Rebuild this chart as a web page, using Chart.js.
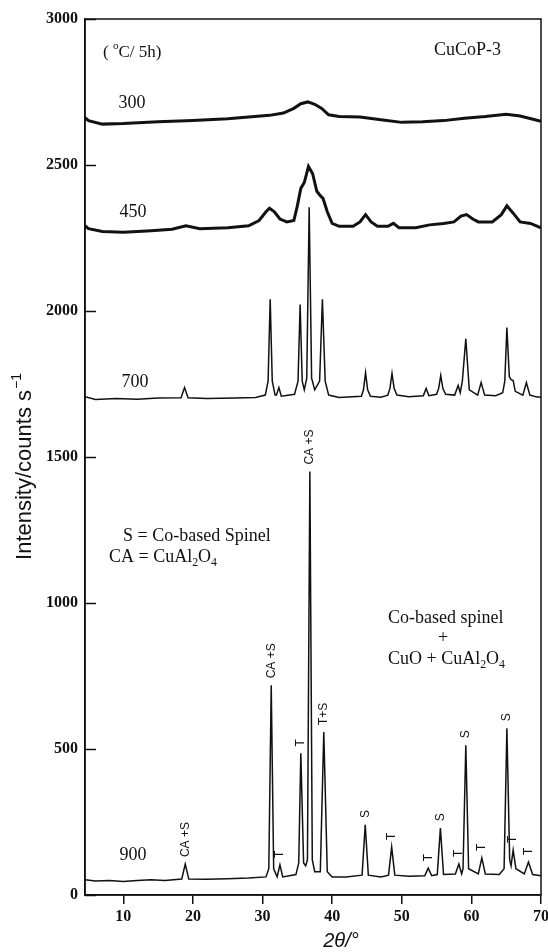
<!DOCTYPE html>
<html>
<head>
<meta charset="utf-8">
<script src="https://cdn.jsdelivr.net/npm/chart.js@4.4.1/dist/chart.umd.min.js"></script>
<style>
html,body{margin:0;padding:0;background:#fff;}
#wrap{width:548px;height:952px;}
</style>
</head>
<body>
<div id="wrap"><canvas id="c" width="548" height="952"></canvas></div>
<script>
// ---- data ----
const xTickValues = [10, 20, 30, 40, 50, 60, 70];
const yTickValues = [0, 500, 1000, 1500, 2000, 2500, 3000];
const xTitle = '2θ/°';
const yTitle = 'Intensity/counts s';
const yTitleSup = '−1';

const tt300 = [4.5, 5, 7, 10, 15, 20, 25, 28, 31, 33, 34.5, 35.5, 36.5, 37.5, 38.5, 39.5, 41, 44, 47, 50, 53, 56, 59, 62, 65, 67, 69, 70];
const int300 = [2662, 2652, 2640, 2642, 2648, 2652, 2658, 2664, 2670, 2678, 2694, 2710, 2716, 2708, 2694, 2672, 2666, 2664, 2655, 2646, 2648, 2652, 2660, 2666, 2674, 2668, 2656, 2650];

const tt450 = [4.5, 5, 7, 10, 14, 17, 19, 21, 25, 28, 29.5, 30.5, 31, 31.7, 32.5, 33.5, 34.5, 35, 35.5, 36, 36.6, 37.2, 37.8, 38.3, 38.7, 39.3, 40, 41, 43, 44, 44.8, 45.6, 46.5, 48, 48.8, 49.6, 52, 54, 56, 57.5, 58.5, 59.3, 60.2, 61, 63, 64.3, 65.1, 66, 67, 68.5, 69.5, 70];
const int450 = [2292, 2282, 2272, 2270, 2275, 2280, 2292, 2282, 2285, 2292, 2310, 2340, 2352, 2340, 2315, 2305, 2310, 2360, 2420, 2440, 2495, 2470, 2410, 2395, 2385, 2340, 2300, 2290, 2290, 2305, 2330, 2305, 2290, 2290, 2300, 2285, 2285, 2295, 2300, 2305, 2325, 2330, 2315, 2305, 2305, 2330, 2360, 2335, 2305, 2300, 2290, 2285];

const tt700 = [4.5, 6, 9, 12, 15, 18.3, 18.8, 19.3, 22, 26, 29, 30.4, 30.8, 31.1, 31.4, 31.8, 32.0, 32.35, 32.7, 34.6, 35.1, 35.4, 35.7, 36.0, 36.35, 36.7, 37.05, 37.5, 38.2, 38.6, 39.0, 39.5, 41, 44.2, 44.5, 44.8, 45.1, 45.5, 47, 48.0, 48.3, 48.6, 48.9, 49.3, 51, 53.1, 53.5, 53.9, 55.0, 55.3, 55.6, 55.9, 56.3, 57.6, 58.1, 58.4, 58.7, 59.2, 59.7, 60.9, 61.4, 61.9, 63.5, 64.5, 64.8, 65.1, 65.45, 65.7, 66.0, 66.3, 67.4, 67.9, 68.4, 69.3, 70];
const int700 = [1706, 1697, 1700, 1698, 1702, 1703, 1738, 1703, 1700, 1702, 1704, 1712, 1760, 2040, 1760, 1712, 1712, 1738, 1708, 1715, 1760, 2022, 1760, 1730, 1770, 2355, 1770, 1730, 1760, 2040, 1760, 1712, 1704, 1708, 1730, 1789, 1730, 1708, 1705, 1712, 1735, 1786, 1735, 1712, 1706, 1710, 1735, 1710, 1715, 1735, 1779, 1735, 1715, 1712, 1745, 1720, 1760, 1905, 1730, 1712, 1755, 1712, 1710, 1720, 1760, 1943, 1775, 1765, 1762, 1725, 1712, 1755, 1712, 1706, 1705];

const tt900 = [4.5, 6, 8, 10, 12, 14, 16, 18.4, 18.9, 19.4, 22, 25, 28, 30.5, 30.9, 31.25, 31.6, 32.1, 32.5, 32.9, 34.8, 35.2, 35.5, 35.9, 36.2, 36.45, 36.8, 37.15, 37.5, 38.3, 38.8, 39.3, 40, 42, 44.3, 44.75, 45.2, 47, 48.1, 48.55, 49.0, 51, 53.3, 53.8, 54.3, 55.1, 55.55, 56, 57.7, 58.2, 58.6, 58.8, 59.2, 59.6, 61.0, 61.5, 62.0, 64, 64.7, 65.1, 65.5, 65.7, 66.0, 66.4, 67.6, 68.2, 68.8, 70];
const int900 = [52, 48, 50, 46, 50, 52, 50, 55, 106, 55, 54, 56, 58, 62, 90, 718, 90, 62, 103, 62, 70, 110, 485, 110, 100, 120, 1450, 120, 80, 80, 558, 80, 62, 62, 68, 240, 68, 62, 68, 164, 68, 64, 66, 92, 66, 70, 229, 70, 72, 106, 72, 90, 513, 90, 72, 127, 72, 70, 90, 571, 120, 100, 154, 90, 72, 113, 70, 66];

const peakPos900 = [18.9, 31.25, 32.5, 35.5, 36.8, 38.8, 44.75, 48.55, 53.8, 55.55, 58.2, 59.2, 61.5, 65.1, 66.0, 68.2];
const peakText900 = ['CA +S', 'CA +S', 'T', 'T', 'CA +S', 'T+S', 'S', 'T', 'T', 'S', 'T', 'S', 'T', 'S', 'T', 'T'];

const seriesNames = ['300', '450', '700', '900'];

// ---- build ----
function pts(xs, ys){ return xs.map((x,i)=>({x:x, y:ys[i]})); }

const SERIF = '"Liberation Serif", "Times New Roman", serif';
const SANS = '"Liberation Sans", Arial, sans-serif';

function drawRich(ctx, segs, x, y, size, align){
  ctx.save();
  ctx.textBaseline = 'alphabetic';
  ctx.textAlign = 'left';
  let total = 0;
  const widths = segs.map(s=>{
    const fs = s[1] ? size*0.66 : size;
    ctx.font = fs + 'px ' + SERIF;
    const w = ctx.measureText(s[0]).width;
    total += w; return w;
  });
  let cx = align === 'center' ? x - total/2 : x;
  const base = y + size*0.33;
  segs.forEach((s,i)=>{
    const fs = s[1] ? size*0.66 : size;
    ctx.font = fs + 'px ' + SERIF;
    let dy = 0;
    if (s[1] === 1) dy = size*0.22;
    if (s[1] === 2) dy = -size*0.42;
    ctx.fillText(s[0], cx, base + dy);
    cx += widths[i];
  });
  ctx.restore();
}

const annoPlugin = {
  id: 'anno',
  afterDraw(chart){
    const ctx = chart.ctx, xs = chart.scales.x, ys = chart.scales.y, a = chart.chartArea;
    ctx.save();
    ctx.strokeStyle = '#111';
    ctx.lineWidth = 1.5;
    ctx.strokeRect(a.left, a.top, a.right - a.left, a.bottom - a.top);
    yTickValues.forEach(v=>{
      const py = Math.round(ys.getPixelForValue(v)) + 0.5;
      ctx.beginPath(); ctx.moveTo(a.left, py); ctx.lineTo(a.left + 11, py); ctx.stroke();
    });
    ctx.fillStyle = '#111';
    // axis titles
    ctx.save();
    ctx.font = 'italic 20px ' + SANS; ctx.textAlign = 'center'; ctx.textBaseline = 'middle';
    ctx.fillText(xTitle, 341, 941);
    ctx.restore();
    ctx.save();
    ctx.translate(25, 467);
    ctx.rotate(-Math.PI/2);
    ctx.font = '22px ' + SANS; ctx.textBaseline = 'middle'; ctx.textAlign = 'left';
    const w1 = ctx.measureText(yTitle).width;
    ctx.font = '14px ' + SANS;
    const w2 = ctx.measureText(yTitleSup).width;
    const start = -(w1 + w2)/2;
    ctx.font = '22px ' + SANS;
    ctx.fillText(yTitle, start, 0);
    ctx.font = '14px ' + SANS;
    ctx.fillText(yTitleSup, start + w1 + 1, -8);
    ctx.restore();
    // series names
    const nameY = [103, 212, 382, 855];
    const nameX = [132, 133, 135, 133];
    ctx.font = '18px ' + SERIF; ctx.textAlign = 'center'; ctx.textBaseline = 'middle';
    seriesNames.forEach((n,i)=> ctx.fillText(n, nameX[i], nameY[i]));
    drawRich(ctx, [['( ',0],['o',2],['C/ 5h)',0]], 103, 51, 17, 'left');
    drawRich(ctx, [['CuCoP-3',0]], 434, 49, 18, 'left');
    drawRich(ctx, [['S = Co-based Spinel',0]], 123, 535, 18, 'left');
    drawRich(ctx, [['CA = CuAl',0],['2',1],['O',0],['4',1]], 109, 556, 18, 'left');
    drawRich(ctx, [['Co-based spinel',0]], 388, 617, 18, 'left');
    drawRich(ctx, [['+',0]], 443, 637, 18, 'center');
    drawRich(ctx, [['CuO + CuAl',0],['2',1],['O',0],['4',1]], 388, 658, 18, 'left');
    // rotated peak labels
    ctx.font = '12px ' + SANS;
    ctx.textAlign = 'left'; ctx.textBaseline = 'middle';
    peakPos900.forEach((p,i)=>{
      const idx = tt900.indexOf(p);
      const px = xs.getPixelForValue(p);
      const py = ys.getPixelForValue(int900[idx]);
      ctx.save();
      ctx.translate(px, py - 7);
      ctx.rotate(-Math.PI/2);
      ctx.fillText(peakText900[i], 0, 0);
      ctx.restore();
    });
    ctx.restore();
  }
};

const widths = [3, 3, 1.5, 1.5];
const datasets = [pts(tt300,int300), pts(tt450,int450), pts(tt700,int700), pts(tt900,int900)].map((d,i)=>({
  label: seriesNames[i], data: d, borderColor: '#111', borderWidth: widths[i],
  pointRadius: 0, tension: 0, fill: false
}));

new Chart(document.getElementById('c'), {
  type: 'line',
  data: { datasets },
  options: {
    responsive: false,
    animation: false,
    layout: { padding: { top: 19, right: 7, left: 0, bottom: 0 } },
    plugins: { legend: { display: false }, tooltip: { enabled: false } },
    scales: {
      x: {
        type: 'linear', min: 4.5, max: 70,
        afterBuildTicks: s => { s.ticks = xTickValues.map(v=>({value:v})); },
        afterFit: s => { s.height = 57; s.paddingRight = 0; s.paddingLeft = 0; },
        grid: { drawOnChartArea: false, drawTicks: true, tickLength: 9, color: '#111', lineWidth: 1.5 },
        border: { display: true, color: '#111', width: 1.5 },
        ticks: { color: '#111', padding: 3, maxRotation: 0, callback: v => String(v), font: { family: SERIF, size: 16, weight: 'bold' } },
        title: { display: false }
      },
      y: {
        min: 0, max: 3000,
        afterBuildTicks: s => { s.ticks = yTickValues.map(v=>({value:v})); },
        afterFit: s => { s.width = 85; s.paddingTop = 0; s.paddingBottom = 0; },
        grid: { drawOnChartArea: false, drawTicks: false },
        border: { display: true, color: '#111', width: 1.5 },
        ticks: { color: '#111', padding: 7, callback: v => String(v), font: { family: SERIF, size: 16, weight: 'bold' } },
        title: { display: false }
      }
    }
  },
  plugins: [annoPlugin]
});
</script>
</body>
</html>
